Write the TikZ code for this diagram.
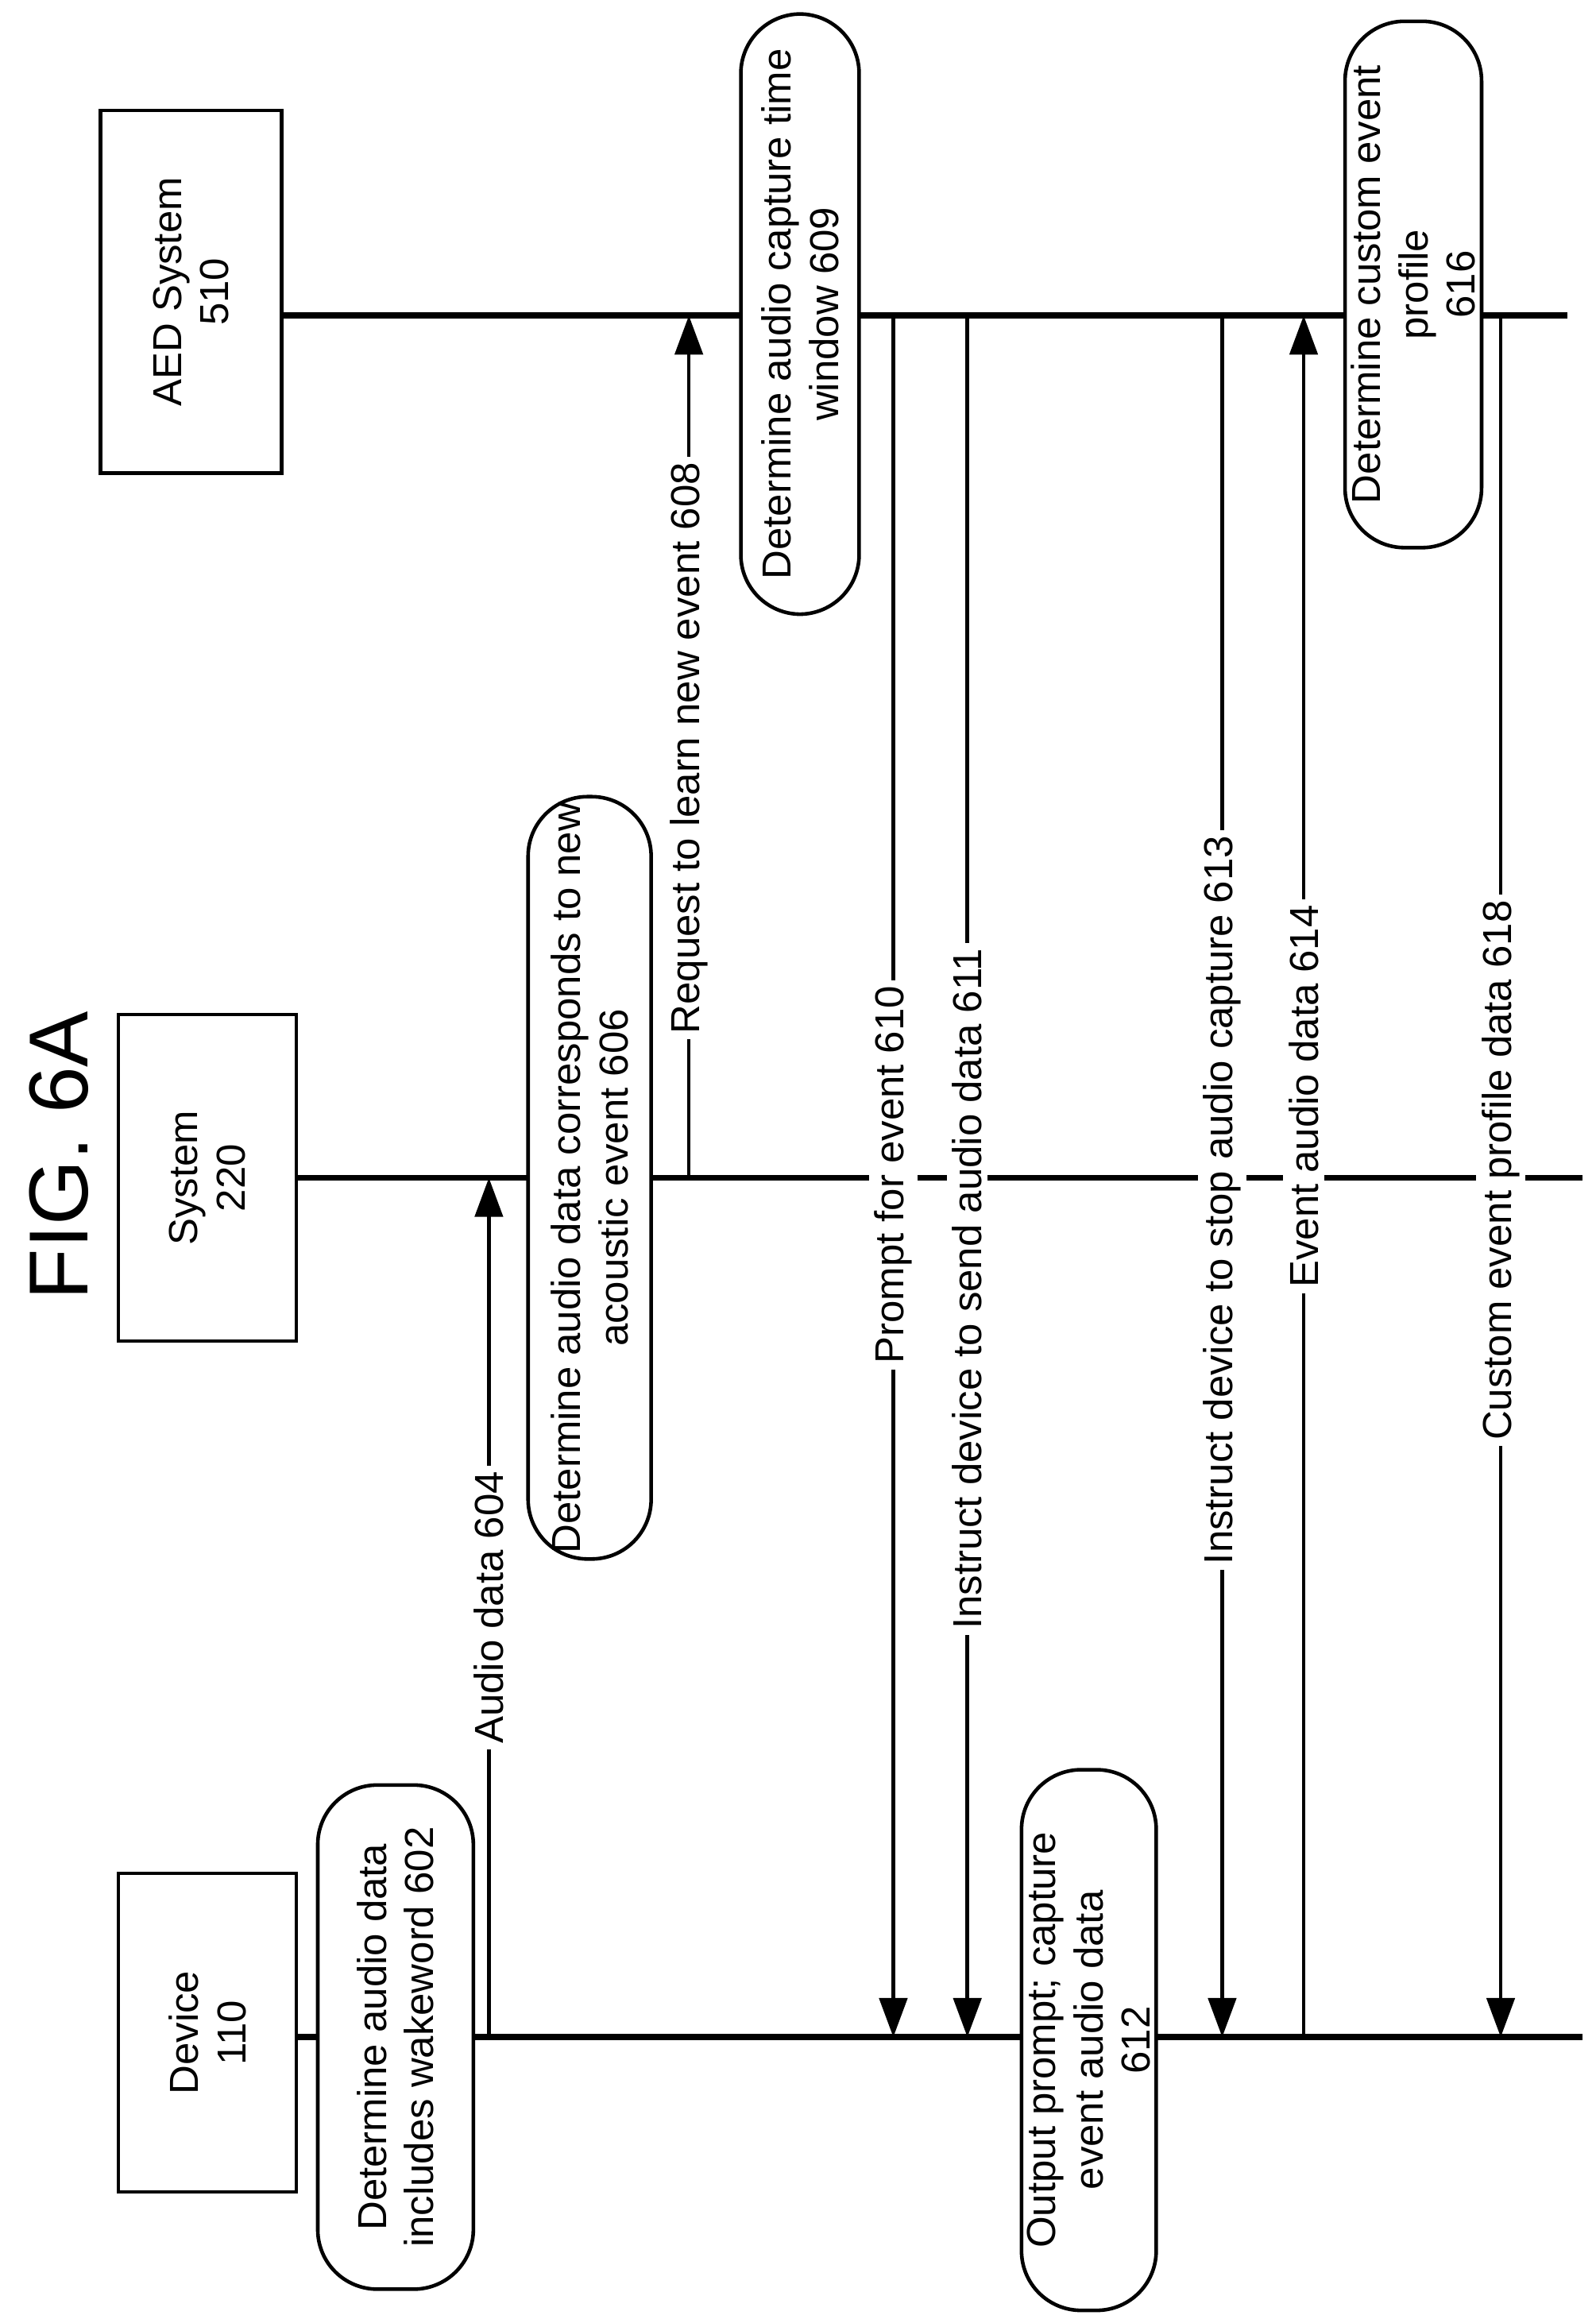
\documentclass[tikz,border=0pt]{standalone}
\usepackage{fontspec}
\setmainfont{Liberation Sans}
\usetikzlibrary{arrows.meta}
\begin{document}
\begin{tikzpicture}[x=0.018663cm,y=-0.018663cm,
  every node/.style={font=\fontsize{14.5}{17}\selectfont},
  box/.style={draw,line width=1.3pt,rotate=90,align=center,inner sep=2pt},
  rbox/.style={box,rounded corners=0.75cm,fill=white},
  life/.style={line width=2.2pt},
  msg/.style={line width=1.3pt,-{Triangle[length=14pt,width=10pt]}},
  lab/.style={rotate=90,fill=white,inner sep=2pt}]
\useasboundingbox (0,0) rectangle (1077,1568);
\node[rotate=90,font=\fontsize{30}{34}\selectfont] (title) at (40,780) {FIG. 6A};
\node[box,minimum width=4.01cm,minimum height=2.24cm] (dev) at (140,1372) {Device\\110};
\node[box,minimum width=4.11cm,minimum height=2.24cm] (sys) at (140,795) {System\\220};
\node[box,minimum width=4.57cm,minimum height=2.28cm] (aed) at (129,197) {AED System\\510};
\coordinate (d0) at (200,1375); \coordinate (d1) at (1068,1375);
\coordinate (s0) at (200,795); \coordinate (s1) at (1068,795);
\coordinate (a0) at (190,213); \coordinate (a1) at (1058,213);
\draw[life] (d0) -- (d1);
\draw[life] (s0) -- (s1);
\draw[life] (a0) -- (a1);
\node[rbox,minimum width=6.35cm,minimum height=1.96cm] (b602) at (267,1375) {Determine audio data\\includes wakeword 602};
\node[rbox,minimum width=9.52cm,minimum height=1.55cm] (b606) at (398,795) {Determine audio data corresponds to new\\acoustic event 606};
\node[rbox,minimum width=7.56cm,minimum height=1.49cm] (b609) at (540,212) {Determine audio capture time\\window 609};
\node[rbox,minimum width=6.81cm,minimum height=1.68cm] (b612) at (735,1377) {Output prompt; capture\\event audio data\\612};
\node[rbox,minimum width=6.63cm,minimum height=1.72cm] (b616) at (954,192) {Determine custom event\\profile\\616};
% messages
\coordinate (m604a) at (330,1375); \coordinate (m604b) at (330,795);
\draw[msg] (m604a) -- (m604b);
\node[lab] (l604) at (330,1085) {Audio data 604};
\coordinate (m608a) at (465,795); \coordinate (m608b) at (465,213);
\draw[msg] (m608a) -- (m608b);
\node[lab] (l608) at (465,505) {Request to learn new event 608};
\coordinate (m610a) at (603,213); \coordinate (m610b) at (603,1375);
\draw[msg] (m610a) -- (m610b);
\node[lab] (l610) at (603,793) {Prompt for event 610};
\coordinate (m611a) at (653,213); \coordinate (m611b) at (653,1375);
\draw[msg] (m611a) -- (m611b);
\node[lab] (l611) at (653,870) {Instruct device to send audio data 611};
\coordinate (m613a) at (825,213); \coordinate (m613b) at (825,1375);
\draw[msg] (m613a) -- (m613b);
\node[lab] (l613) at (825,810) {Instruct device to stop audio capture 613};
\coordinate (m614a) at (880,1375); \coordinate (m614b) at (880,213);
\draw[msg] (m614a) -- (m614b);
\node[lab] (l614) at (880,740) {Event audio data 614};
\coordinate (m618a) at (1013,213); \coordinate (m618b) at (1013,1375);
\draw[msg] (m618a) -- (m618b);
\node[lab] (l618) at (1013,790) {Custom event profile data 618};
\end{tikzpicture}
\end{document}
